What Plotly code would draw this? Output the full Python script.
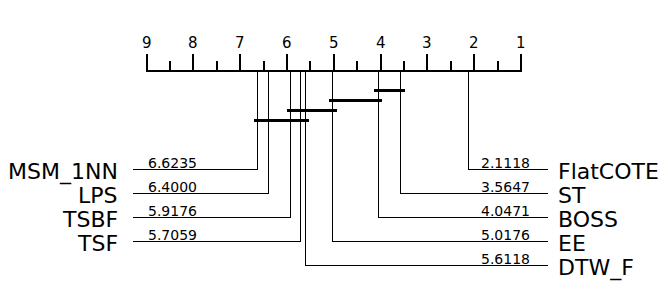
import plotly.graph_objects as go

# ---- data ----
names = ["FlatCOTE", "ST", "BOSS", "EE", "DTW_F", "TSF", "TSBF", "LPS", "MSM_1NN"]
avg_ranks = [2.1118, 3.5647, 4.0471, 5.0176, 5.6118, 5.7059, 5.9176, 6.4000, 6.6235]
left_names = ["MSM_1NN", "LPS", "TSBF", "TSF"]
right_names = ["FlatCOTE", "ST", "BOSS", "EE", "DTW_F"]
cliques = [("ST", "BOSS"), ("BOSS", "EE"), ("EE", "TSBF"), ("DTW_F", "MSM_1NN")]
rank_ticks = [9, 8, 7, 6, 5, 4, 3, 2, 1]
minor_ticks = [8.5, 7.5, 6.5, 5.5, 4.5, 3.5, 2.5, 1.5]

rank_of = dict(zip(names, avg_ranks))

# ---- layout constants (pixels) ----
W, H = 670, 300
AX_LEFT_PX, AX_RIGHT_PX = 146.5, 521.0
lowv, highv = min(rank_ticks), max(rank_ticks)
scale = (AX_RIGHT_PX - AX_LEFT_PX) / (highv - lowv)


def px2rank(px):
    return highv - (px - AX_LEFT_PX) / scale


AXIS_Y = 71
MAJOR_TOP, MINOR_TOP = 54, 61
ROW0, ROW_STEP = 169.5, 24
CLIQUE0, CLIQUE_STEP = 90.5, 10
LEFT_LINE_PX, RIGHT_LINE_PX = 133, 548
SIDE = 4 / scale
FONT = "DejaVu Sans"

fig = go.Figure()


def add_segments(xs, ys, width):
    fig.add_trace(go.Scatter(x=xs, y=ys, mode="lines",
                             line=dict(color="black", width=width),
                             hoverinfo="skip", showlegend=False))


# axis line
add_segments([highv, lowv], [AXIS_Y, AXIS_Y], 2)
# ticks
tx, ty = [], []
for t in rank_ticks:
    tx += [t, t, None]
    ty += [AXIS_Y + 1, MAJOR_TOP, None]
for t in minor_ticks:
    tx += [t, t, None]
    ty += [AXIS_Y + 1, MINOR_TOP, None]
add_segments(tx, ty, 2)

# cliques
cx, cy = [], []
for i, (a, b) in enumerate(cliques):
    lo = min(rank_of[a], rank_of[b]) - SIDE
    hi = max(rank_of[a], rank_of[b]) + SIDE
    y = CLIQUE0 + i * CLIQUE_STEP
    cx += [lo, hi, None]
    cy += [y, y, None]
add_segments(cx, cy, 3)

# connectors
lx, ly = [], []
for i, n in enumerate(left_names):
    r = rank_of[n]
    y = ROW0 + i * ROW_STEP
    lx += [px2rank(LEFT_LINE_PX), r, r, None]
    ly += [y, y, AXIS_Y, None]
for i, n in enumerate(right_names):
    r = rank_of[n]
    y = ROW0 + i * ROW_STEP
    lx += [px2rank(RIGHT_LINE_PX), r, r, None]
    ly += [y, y, AXIS_Y, None]
add_segments(lx, ly, 1)

ann = []
for t in rank_ticks:
    ann.append(dict(x=t, y=42.5, text=str(t), xanchor="center", yanchor="middle",
                    font=dict(size=15, family=FONT, color="black")))
for i, n in enumerate(left_names):
    y = ROW0 + i * ROW_STEP
    ann.append(dict(x=px2rank(119), y=y + 2, text=n, xanchor="right", yanchor="middle",
                    font=dict(size=22, family=FONT, color="black")))
    ann.append(dict(x=px2rank(147), y=y - 7, text=f"{rank_of[n]:.4f}", xanchor="left",
                    yanchor="middle", font=dict(size=14, family=FONT, color="black")))
for i, n in enumerate(right_names):
    y = ROW0 + i * ROW_STEP
    ann.append(dict(x=px2rank(557), y=y + 2, text=n, xanchor="left", yanchor="middle",
                    font=dict(size=22, family=FONT, color="black")))
    ann.append(dict(x=px2rank(531), y=y - 7, text=f"{rank_of[n]:.4f}", xanchor="right",
                    yanchor="middle", font=dict(size=14, family=FONT, color="black")))
for a in ann:
    a.update(xref="x", yref="y", showarrow=False, borderpad=0)

fig.update_layout(
    width=W, height=H,
    margin=dict(l=0, r=0, t=0, b=0, pad=0),
    paper_bgcolor="white", plot_bgcolor="white",
    xaxis=dict(range=[px2rank(0), px2rank(W)], visible=False, fixedrange=True),
    yaxis=dict(range=[H, 0], visible=False, fixedrange=True),
    annotations=ann,
    showlegend=False,
)

crisp = ("document.querySelectorAll('.scatterlayer path.js-line')"
         ".forEach(function(p){p.style.shapeRendering='crispEdges';});")
fig.write_html("out.html", config={"displayModeBar": False}, post_script=crisp)
